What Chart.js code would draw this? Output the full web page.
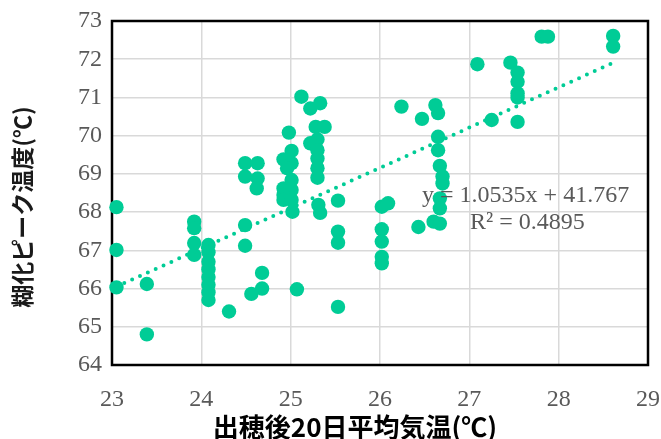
<!DOCTYPE html>
<html>
<head>
<meta charset="utf-8">
<script src="https://cdn.jsdelivr.net/npm/chart.js@4"></script>
<style>
  html, body { margin: 0; padding: 0; background: #ffffff; }
  #wrap { width: 661px; height: 439px; }
</style>
</head>
<body>
<div id="wrap"><canvas id="chart" width="661" height="439"></canvas></div>
<script>
// Mean air temperature for 20 days after heading (°C)
const meanTemp = [
  23.05, 23.05, 23.05, 23.39, 23.39,
  23.92, 23.92, 23.92, 23.92,
  24.08, 24.08, 24.08, 24.08, 24.08, 24.08, 24.08, 24.08,
  24.31, 24.49, 24.49, 24.49, 24.63, 24.49, 24.63, 24.62,
  24.68, 24.68, 24.56,
  24.98, 25.01, 24.92, 25.01, 24.96, 25.01, 24.92, 25.01, 24.92, 24.92, 25.01, 25.02, 25.07,
  25.12, 25.22, 25.33, 25.28, 25.38, 25.30, 25.22, 25.30, 25.30, 25.30, 25.30, 25.31, 25.33,
  25.53, 25.53, 25.53, 25.53,
  26.02, 26.09, 26.02, 26.02, 26.02, 26.02,
  26.24, 26.43, 26.47, 26.60, 26.62, 26.65, 26.65, 26.65, 26.67, 26.70, 26.70, 26.67, 26.67, 26.67,
  27.09, 27.25, 27.46, 27.54, 27.54, 27.54, 27.54, 27.54,
  27.81, 27.88, 28.61, 28.61
];
// Gelatinization peak temperature (°C)
const peakTemp = [
  68.13, 67.01, 66.03, 66.12, 64.80,
  67.75, 67.58, 67.19, 66.88,
  67.14, 66.95, 66.70, 66.50, 66.30, 66.10, 65.90, 65.70,
  65.40, 67.66, 67.12, 69.28, 69.28, 68.93, 68.88, 68.62,
  66.41, 66.00, 65.86,
  70.08, 69.60, 69.38, 69.28, 69.15, 68.84, 68.62, 68.58, 68.45, 68.32, 68.32, 68.01, 65.98,
  71.02, 70.71, 70.85, 70.23, 70.23, 69.90, 69.80, 69.62, 69.40, 69.15, 68.90, 68.19, 67.98,
  68.30, 67.49, 67.20, 65.52,
  68.14, 68.23, 67.55, 67.23, 66.83, 66.66,
  70.76, 67.61, 70.44, 67.75, 70.80, 70.59, 69.97, 69.62, 69.21, 68.93, 68.75, 68.36, 68.10, 67.70,
  71.87, 70.41, 71.91, 71.65, 71.41, 71.11, 71.00, 70.36,
  72.59, 72.59, 72.61, 72.33
];
const xTickValues = [23, 24, 25, 26, 27, 28, 29];
const yTickValues = [64, 65, 66, 67, 68, 69, 70, 71, 72, 73];

// Linear trend line fitted to the points
const trendSlope = 1.0535;
const trendIntercept = 41.767;
const trendR2 = 0.4895;

const xTitle = '出穂後20日平均気温(℃)';
const yTitle = '糊化ピーク温度(℃)';

const markColor = '#00cc96';
const tickColor = '#595959';
const serifFont = '"Liberation Serif", "Times New Roman", serif';
const cjkFont = '"Noto Sans CJK JP", sans-serif';

const points = meanTemp.map((x, i) => ({ x: x, y: peakTemp[i] }));
const xMin = Math.min(...meanTemp);
const xMax = Math.max(...meanTemp);
const trendPoints = [xMin, xMax].map(x => ({ x: x, y: trendSlope * x + trendIntercept }));

// Black border round the plot area
const framePlugin = {
  id: 'plotFrame',
  beforeDatasetsDraw(chart) {
    const a = chart.chartArea, ctx = chart.ctx;
    ctx.save();
    ctx.strokeStyle = '#000000';
    ctx.lineWidth = 2.5;
    ctx.strokeRect(a.left, a.top, a.right - a.left, a.bottom - a.top);
    ctx.restore();
  }
};

// Axis titles
const axisTitlePlugin = {
  id: 'axisTitles',
  afterDraw(chart) {
    const a = chart.chartArea, ctx = chart.ctx;
    ctx.save();
    ctx.fillStyle = '#000000';
    ctx.textAlign = 'center';
    ctx.textBaseline = 'middle';
    ctx.font = 'bold 26px ' + cjkFont;
    ctx.fillText(xTitle, (a.left + a.right) / 2 - 25, chart.height - 12);
    ctx.fillStyle = '#1a1a1a';
    ctx.translate(22, (a.top + a.bottom) / 2 + 14);
    ctx.rotate(-Math.PI / 2);
    ctx.font = 'bold 23px ' + cjkFont;
    ctx.fillText(yTitle, 0, 0);
    ctx.restore();
  }
};

// Equation and R² label, placed in data coordinates
const equationPlugin = {
  id: 'trendLabel',
  afterDatasetsDraw(chart) {
    const xs = chart.scales.x, ys = chart.scales.y, ctx = chart.ctx;
    ctx.save();
    ctx.font = '24px ' + serifFont;
    ctx.fillStyle = tickColor;
    ctx.textAlign = 'center';
    ctx.textBaseline = 'middle';
    ctx.fillText('y = ' + trendSlope + 'x + ' + trendIntercept,
      xs.getPixelForValue(27.63), ys.getPixelForValue(68.42));
    ctx.fillText('R² = ' + trendR2,
      xs.getPixelForValue(27.65), ys.getPixelForValue(67.71));
    ctx.restore();
  }
};

new Chart(document.getElementById('chart'), {
  type: 'scatter',
  data: {
    datasets: [
      {
        label: 'trend',
        type: 'line',
        data: trendPoints,
        borderColor: markColor,
        borderWidth: 4,
        borderDash: [0, 8.6],
        borderCapStyle: 'round',
        pointRadius: 0,
        fill: false,
        order: 0
      },
      {
        label: 'points',
        data: points,
        backgroundColor: markColor,
        borderColor: markColor,
        borderWidth: 0,
        pointRadius: 7.2,
        pointHoverRadius: 7.2,
        clip: false,
        order: 1
      }
    ]
  },
  options: {
    responsive: false,
    animation: false,
    devicePixelRatio: 1,
    layout: { padding: { left: 0, right: 13, top: 21, bottom: 0 } },
    plugins: {
      legend: { display: false },
      tooltip: { enabled: false }
    },
    scales: {
      x: {
        type: 'linear',
        min: xTickValues[0],
        max: xTickValues[xTickValues.length - 1],
        afterBuildTicks(scale) { scale.ticks = xTickValues.map(v => ({ value: v })); },
        afterFit(scale) { scale.height = 74; scale.paddingLeft = 0; scale.paddingRight = 0; },
        grid: { color: '#d9d9d9', lineWidth: 1.5, drawTicks: false },
        border: { display: false },
        ticks: {
          color: tickColor,
          padding: 20,
          maxRotation: 0,
          font: { family: serifFont, size: 24 }
        }
      },
      y: {
        type: 'linear',
        min: yTickValues[0],
        max: yTickValues[yTickValues.length - 1],
        afterBuildTicks(scale) { scale.ticks = yTickValues.map(v => ({ value: v })); },
        afterFit(scale) { scale.width = 112; scale.paddingTop = 0; scale.paddingBottom = 0; },
        grid: { color: '#d9d9d9', lineWidth: 1.5, drawTicks: false },
        border: { display: false },
        ticks: {
          color: tickColor,
          padding: 10,
          font: { family: serifFont, size: 24 }
        }
      }
    }
  },
  plugins: [framePlugin, equationPlugin, axisTitlePlugin]
});
</script>
</body>
</html>
